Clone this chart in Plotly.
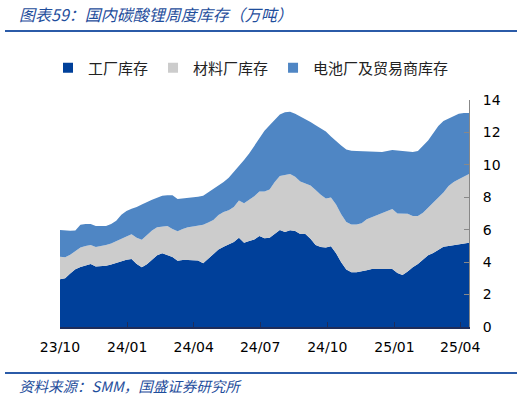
import pandas as pd
import plotly.graph_objects as go

# Weekly dates (categories of the x axis)
dates = pd.date_range("2023-10-01", periods=81, freq="7D")

# 工厂库存 (万吨)
factory = [2.94, 3.00, 3.30, 3.56, 3.70, 3.80, 3.89, 3.73, 3.74, 3.77,
           3.85, 3.95, 4.07, 4.15, 4.20, 3.88, 3.68, 3.87, 4.15, 4.42,
           4.55, 4.45, 4.32, 4.08, 4.13, 4.13, 4.13, 4.10, 3.93, 4.20,
           4.50, 4.78, 4.95, 5.08, 5.25, 5.50, 5.20, 5.30, 5.40, 5.62,
           5.47, 5.50, 5.72, 5.98, 5.86, 5.97, 5.92, 5.74, 5.74, 5.45,
           5.05, 4.93, 4.90, 4.98, 4.55, 4.00, 3.55, 3.38, 3.37, 3.42,
           3.50, 3.58, 3.57, 3.56, 3.57, 3.58, 3.33, 3.20, 3.42, 3.68,
           3.88, 4.15, 4.42, 4.57, 4.75, 4.95, 5.00, 5.04, 5.10, 5.15,
           5.20]

# 材料厂库存 (万吨)
material = [1.40, 1.30, 1.15, 1.09, 1.20, 1.20, 1.17, 1.20, 1.24, 1.29,
            1.30, 1.33, 1.33, 1.43, 1.52, 1.62, 1.70, 1.78, 1.80, 1.73,
            1.65, 1.78, 1.73, 1.82, 1.92, 2.02, 2.07, 2.15, 2.37, 2.25,
            2.10, 2.12, 2.15, 2.12, 2.15, 2.30, 2.43, 2.55, 2.66, 2.73,
            2.88, 2.98, 3.23, 3.34, 3.54, 3.47, 3.34, 3.24, 3.11, 3.27,
            3.40, 3.22, 3.02, 3.00, 3.00, 2.95, 2.93, 2.94, 2.95, 2.98,
            3.15, 3.20, 3.33, 3.49, 3.58, 3.69, 3.67, 3.78, 3.56, 3.17,
            2.97, 2.90, 2.93, 3.08, 3.20, 3.35, 3.70, 3.91, 4.02, 4.15,
            4.24]

# 电池厂及贸易商库存 (万吨)
battery = [1.65, 1.65, 1.48, 1.30, 1.40, 1.35, 1.30, 1.30, 1.24, 1.17,
           1.20, 1.27, 1.52, 1.57, 1.58, 1.90, 2.17, 2.07, 1.90, 1.82,
           1.90, 1.90, 2.07, 2.00, 1.88, 1.81, 1.80, 1.79, 1.80, 1.85,
           1.90, 1.80, 1.85, 2.00, 2.15, 2.15, 2.67, 2.85, 3.09, 3.30,
           3.75, 3.97, 3.85, 3.78, 3.85, 3.84, 3.89, 4.02, 3.95, 3.93,
           4.00, 4.10, 4.13, 3.77, 3.90, 4.25, 4.47, 4.55, 4.54, 4.45,
           4.20, 4.07, 3.93, 3.75, 3.71, 3.65, 3.88, 3.87, 3.85, 3.95,
           4.00, 4.10, 4.15, 4.30, 4.45, 4.40, 4.15, 4.05, 4.03, 3.90,
           3.76]

series_names = ["工厂库存", "材料厂库存", "电池厂及贸易商库存"]
series_colors = ["#00409A", "#CCCCCC", "#4F86C4"]

tick_vals = ["2023-10-01", "2024-01-01", "2024-04-01", "2024-07-01",
             "2024-10-01", "2025-01-01", "2025-04-01"]
tick_text = ["23/10", "24/01", "24/04", "24/07", "24/10", "25/01", "25/04"]

title_text = "图表59：国内碳酸锂周度库存（万吨）"
source_text = "资料来源：SMM，国盛证券研究所"

CJK = "Noto Sans CJK SC"
LAT = "DejaVu Sans"
BLUE_TEXT = "#1F4E9C"

fig = go.Figure()
for name, vals, col in zip(series_names, [factory, material, battery], series_colors):
    fig.add_trace(go.Scatter(
        x=dates, y=vals, name=name, mode="lines", stackgroup="one",
        line=dict(width=0, color=col), fillcolor=col, showlegend=False,
    ))
# legend entries with square markers
for name, col in zip(series_names, series_colors):
    fig.add_trace(go.Scatter(
        x=[None], y=[None], name=name, mode="markers",
        marker=dict(symbol="square", size=10, color=col),
    ))

fig.update_layout(
    width=525, height=398,
    margin=dict(l=60, r=56, t=100, b=71, autoexpand=False),
    paper_bgcolor="white", plot_bgcolor="white",
    font=dict(family=CJK, size=14, color="#000000"),
    legend=dict(orientation="h", traceorder="normal",
                x=(251 - 60) / 409, xanchor="center", y=1 - 68 / 398, yref="container",
                yanchor="middle", font=dict(family=CJK, size=15, color="#222222"),
                itemclick=False, bgcolor="rgba(0,0,0,0)"),
    showlegend=True,
    xaxis=dict(
        type="date", range=[dates[0], dates[-1]],
        tickmode="array", tickvals=tick_vals, ticktext=tick_text,
        ticks="inside", ticklen=5, tickcolor="#1F2D5A", tickwidth=1,
        showline=True, linecolor="#1F2D5A", linewidth=1.5,
        showgrid=False, zeroline=False,
        tickfont=dict(family=LAT, size=14, color="#000000"),
        ticklabelstandoff=6,
    ),
    yaxis=dict(
        side="right", range=[0, 14], dtick=2, tick0=0,
        ticks="inside", ticklen=5, tickcolor="#888888",
        showline=True, linecolor="#888888", linewidth=1,
        showgrid=False, zeroline=False,
        tickfont=dict(family=LAT, size=14, color="#000000"),
        ticklabelstandoff=10,
    ),
    shapes=[
        dict(type="line", xref="paper", yref="paper", x0=-(60 - 5) / 409, x1=(517 - 60) / 409,
             y0=1 + (100 - 31) / 227, y1=1 + (100 - 31) / 227,
             line=dict(color="#2B5BA8", width=2)),
        dict(type="line", xref="paper", yref="paper", x0=-(60 - 5) / 409, x1=(517 - 60) / 409,
             y0=-(373 - 327) / 227, y1=-(373 - 327) / 227,
             line=dict(color="#2B5BA8", width=2)),
    ],
    annotations=[
        dict(text=title_text, xref="paper", yref="paper", x=-(60 - 17) / 409,
             y=1 + (100 - 14) / 227, xanchor="left", yanchor="middle",
             showarrow=False,
             font=dict(family=CJK, size=16, color=BLUE_TEXT, style="italic")),
        dict(text=source_text, xref="paper", yref="paper", x=-(60 - 17) / 409,
             y=-(385 - 327) / 227, xanchor="left", yanchor="middle",
             showarrow=False,
             font=dict(family=CJK, size=14.5, color=BLUE_TEXT, style="italic")),
    ],
)

fig.write_html(
    "out.html",
    config={"displayModeBar": False},
    post_script="document.body.style.margin='0';document.body.style.overflow='hidden';",
)
